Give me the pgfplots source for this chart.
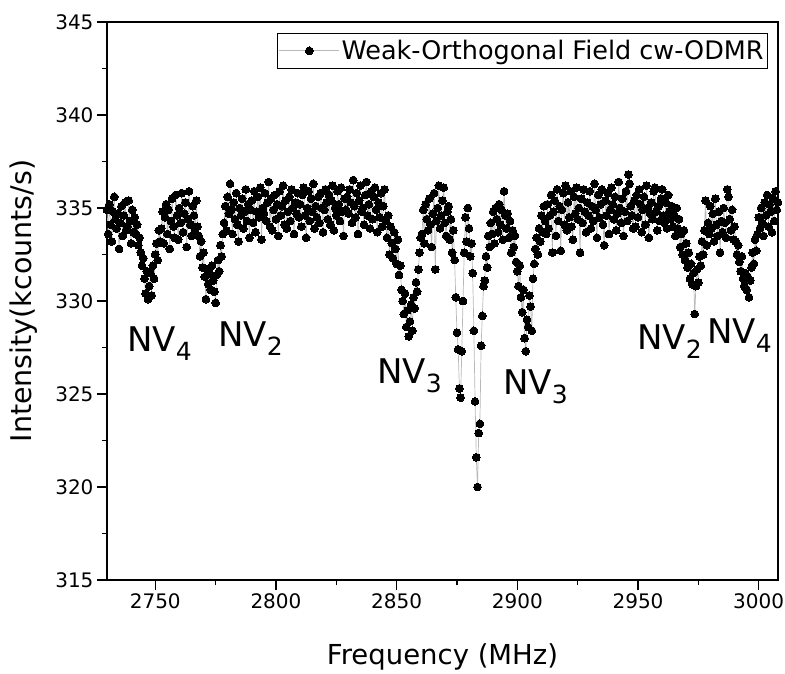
\documentclass[border=0pt]{standalone}
\usepackage{pgfplots}
\pgfplotsset{compat=1.18}
\usepackage{fontspec}
\setmainfont{DejaVu Sans}
\pgfplotstableread{
x y
2730.0 334.9
2730.5 333.6
2731.0 335.2
2731.5 334.1
2732.0 333.2
2732.5 334.8
2733.0 335.6
2733.5 334.4
2734.0 333.9
2734.5 334.7
2735.0 332.8
2735.5 334.2
2736.0 335.1
2736.5 333.5
2737.0 334.6
2737.5 335.3
2738.0 333.8
2738.5 334.0
2739.0 335.4
2739.5 334.3
2740.0 333.1
2740.5 334.9
2741.0 333.7
2741.5 334.5
2742.0 333.6
2742.5 334.1
2743.0 333.0
2743.5 333.4
2744.0 332.6
2744.5 331.9
2745.0 332.3
2745.5 331.2
2746.0 330.4
2746.5 331.6
2747.0 330.1
2747.5 330.8
2748.0 331.5
2748.5 330.3
2749.0 331.9
2749.5 331.2
2750.0 332.5
2750.5 333.1
2751.0 332.2
2751.5 333.8
2752.0 333.2
2752.5 333.9
2753.0 334.8
2753.5 333.1
2754.0 334.5
2754.5 335.2
2755.0 333.6
2755.5 334.9
2756.0 332.8
2756.5 334.3
2757.0 335.5
2757.5 334.0
2758.0 333.4
2758.5 335.7
2759.0 334.6
2759.5 333.3
2760.0 335.0
2760.5 334.2
2761.0 335.8
2761.5 333.7
2762.0 334.7
2762.5 335.3
2763.0 332.9
2763.5 334.4
2764.0 335.9
2764.5 334.1
2765.0 333.5
2765.5 335.1
2766.0 334.6
2766.5 333.8
2767.0 335.4
2767.5 334.0
2768.0 333.5
2768.5 332.4
2769.0 333.2
2769.5 331.8
2770.0 332.6
2770.5 331.3
2771.0 330.1
2771.5 331.7
2772.0 330.9
2772.5 331.5
2773.0 330.6
2773.5 331.9
2774.0 331.1
2774.5 330.5
2775.0 329.9
2775.5 331.4
2776.0 332.2
2776.5 331.6
2777.0 333.0
2777.5 332.4
2778.0 333.6
2778.5 334.2
2779.0 335.1
2779.5 333.8
2780.0 335.6
2780.5 334.7
2781.0 336.3
2781.5 334.9
2782.0 333.6
2782.5 335.3
2783.0 334.4
2783.5 335.8
2784.0 334.1
2784.5 333.2
2785.0 335.0
2785.5 334.6
2786.0 335.5
2786.5 333.9
2787.0 334.8
2787.5 336.0
2788.0 334.3
2788.5 335.2
2789.0 333.4
2789.5 334.9
2790.0 335.4
2790.5 334.2
2791.0 335.9
2791.5 333.7
2792.0 334.8
2792.5 335.6
2793.0 334.5
2793.5 336.1
2794.0 333.3
2794.5 335.0
2795.0 334.7
2795.5 335.8
2796.0 334.3
2796.5 335.3
2797.0 336.4
2797.5 334.0
2798.0 335.5
2798.5 333.8
2799.0 334.9
2799.5 335.7
2800.0 334.4
2800.5 335.2
2801.0 333.5
2801.5 335.9
2802.0 334.6
2802.5 335.1
2803.0 336.2
2803.5 334.1
2804.0 335.4
2804.5 333.9
2805.0 334.8
2805.5 335.6
2806.0 334.3
2806.5 336.0
2807.0 335.0
2807.5 333.6
2808.0 335.3
2808.5 334.7
2809.0 335.8
2809.5 334.5
2810.0 335.2
2810.5 334.0
2811.0 335.7
2811.5 336.1
2812.0 334.6
2812.5 333.4
2813.0 335.0
2813.5 335.9
2814.0 334.3
2814.5 335.5
2815.0 334.8
2815.5 336.3
2816.0 333.9
2816.5 335.1
2817.0 334.5
2817.5 335.6
2818.0 334.2
2818.5 335.8
2819.0 335.0
2819.5 333.7
2820.0 334.9
2820.5 336.0
2821.0 335.3
2821.5 334.4
2822.0 335.7
2822.5 334.1
2823.0 335.4
2823.5 336.2
2824.0 333.8
2824.5 335.0
2825.0 334.6
2825.5 335.9
2826.0 335.2
2826.5 334.3
2827.0 336.1
2827.5 334.8
2828.0 333.5
2828.5 335.5
2829.0 334.9
2829.5 335.6
2830.0 334.7
2830.5 336.0
2831.0 335.3
2831.5 334.2
2832.0 336.5
2832.5 335.1
2833.0 334.5
2833.5 335.8
2834.0 333.6
2834.5 335.4
2835.0 336.2
2835.5 334.8
2836.0 335.0
2836.5 334.1
2837.0 335.7
2837.5 336.4
2838.0 334.6
2838.5 335.2
2839.0 333.9
2839.5 335.9
2840.0 334.4
2840.5 335.6
2841.0 336.1
2841.5 334.9
2842.0 333.7
2842.5 335.3
2843.0 334.5
2843.5 335.8
2844.0 334.0
2844.5 335.1
2845.0 336.0
2845.5 334.3
2846.0 333.4
2846.5 334.6
2847.0 332.5
2847.5 334.0
2848.0 333.1
2848.5 332.3
2849.0 333.7
2849.5 332.8
2850.0 332.0
2850.5 333.3
2851.0 331.4
2851.5 331.9
2852.0 330.6
2852.5 330.0
2853.0 329.3
2853.5 330.4
2854.0 328.6
2854.5 329.5
2855.0 328.1
2855.5 328.9
2856.0 329.8
2856.5 328.4
2857.0 330.2
2857.5 329.6
2858.0 331.0
2858.5 330.5
2859.0 331.7
2859.5 332.6
2860.0 333.4
2860.5 333.6
2861.0 334.9
2861.5 333.1
2862.0 335.2
2862.5 334.4
2863.0 333.8
2863.5 335.5
2864.0 334.1
2864.5 332.9
2865.0 334.7
2865.5 335.8
2866.0 331.7
2866.5 334.3
2867.0 335.0
2867.5 336.2
2868.0 333.9
2868.5 334.6
2869.0 335.4
2869.5 336.1
2870.0 334.2
2870.5 333.5
2871.0 334.8
2871.5 335.1
2872.0 333.3
2872.5 334.4
2873.0 332.6
2873.5 333.8
2874.0 332.2
2874.5 330.2
2875.0 328.3
2875.5 327.4
2876.0 325.3
2876.5 324.8
2877.0 327.3
2877.5 330.0
2878.0 332.6
2878.5 334.5
2879.0 333.2
2879.5 335.0
2880.0 333.9
2880.5 332.4
2881.0 333.1
2881.5 331.5
2882.0 328.4
2882.5 324.6
2883.0 321.6
2883.5 320.0
2884.0 322.9
2884.5 323.4
2885.0 327.6
2885.5 329.2
2886.0 330.8
2886.5 331.1
2887.0 332.4
2887.5 331.8
2888.0 333.5
2888.5 332.9
2889.0 334.2
2889.5 333.6
2890.0 334.8
2890.5 333.1
2891.0 335.0
2891.5 334.4
2892.0 333.7
2892.5 335.2
2893.0 334.1
2893.5 334.9
2894.0 333.3
2894.5 335.9
2895.0 334.6
2895.5 333.9
2896.0 334.7
2896.5 333.4
2897.0 334.3
2897.5 332.6
2898.0 333.8
2898.5 332.9
2899.0 333.5
2899.5 332.1
2900.0 331.6
2900.5 330.8
2901.0 331.9
2901.5 330.2
2902.0 329.4
2902.5 330.6
2903.0 328.0
2903.5 327.3
2904.0 329.0
2904.5 328.6
2905.0 330.3
2905.5 329.7
2906.0 328.4
2906.5 331.2
2907.0 332.0
2907.5 332.8
2908.0 333.4
2908.5 332.5
2909.0 333.9
2909.5 333.2
2910.0 334.6
2910.5 333.7
2911.0 335.1
2911.5 334.3
2912.0 333.6
2912.5 335.2
2913.0 333.9
2913.5 334.6
2914.0 335.7
2914.5 332.6
2915.0 334.8
2915.5 335.4
2916.0 333.5
2916.5 336.0
2917.0 334.3
2917.5 335.1
2918.0 332.7
2918.5 334.9
2919.0 335.8
2919.5 334.1
2920.0 336.2
2920.5 333.8
2921.0 335.3
2921.5 334.5
2922.0 335.9
2922.5 334.0
2923.0 333.3
2923.5 335.6
2924.0 334.7
2924.5 336.1
2925.0 334.4
2925.5 335.0
2926.0 332.6
2926.5 335.5
2927.0 334.2
2927.5 336.0
2928.0 334.8
2928.5 333.7
2929.0 335.3
2929.5 334.6
2930.0 335.9
2930.5 333.9
2931.0 335.1
2931.5 334.3
2932.0 336.3
2932.5 334.9
2933.0 333.4
2933.5 335.7
2934.0 334.5
2934.5 335.2
2935.0 336.0
2935.5 334.1
2936.0 333.0
2936.5 335.4
2937.0 334.6
2937.5 335.8
2938.0 333.6
2938.5 334.9
2939.0 336.1
2939.5 335.2
2940.0 334.4
2940.5 335.6
2941.0 333.8
2941.5 334.7
2942.0 336.4
2942.5 335.0
2943.0 334.2
2943.5 335.5
2944.0 333.5
2944.5 334.8
2945.0 335.9
2945.5 334.3
2946.0 336.8
2946.5 336.3
2947.0 335.1
2947.5 334.6
2948.0 333.9
2948.5 335.4
2949.0 334.0
2949.5 335.7
2950.0 334.5
2950.5 336.0
2951.0 335.2
2951.5 333.7
2952.0 334.9
2952.5 335.6
2953.0 334.1
2953.5 336.2
2954.0 335.0
2954.5 333.4
2955.0 334.7
2955.5 335.3
2956.0 334.4
2956.5 335.9
2957.0 336.1
2957.5 334.8
2958.0 333.8
2958.5 335.1
2959.0 334.3
2959.5 335.5
2960.0 336.0
2960.5 334.6
2961.0 334.2
2961.5 335.3
2962.0 333.9
2962.5 335.7
2963.0 334.8
2963.5 334.4
2964.0 335.1
2964.5 334.0
2965.0 334.6
2965.5 333.5
2966.0 335.0
2966.5 333.9
2967.0 334.4
2967.5 332.9
2968.0 333.6
2968.5 332.5
2969.0 333.8
2969.5 332.2
2970.0 333.1
2970.5 331.8
2971.0 332.6
2971.5 331.2
2972.0 332.0
2972.5 330.9
2973.0 331.5
2973.5 329.3
2974.0 330.8
2974.5 331.7
2975.0 331.0
2975.5 332.4
2976.0 331.9
2976.5 333.2
2977.0 332.5
2977.5 333.8
2978.0 335.4
2978.5 333.0
2979.0 334.2
2979.5 333.6
2980.0 335.1
2980.5 333.9
2981.0 334.7
2981.5 333.2
2982.0 335.5
2982.5 334.1
2983.0 333.5
2983.5 334.8
2984.0 332.6
2984.5 334.3
2985.0 333.7
2985.5 335.0
2986.0 334.2
2986.5 333.4
2987.0 336.0
2987.5 335.6
2988.0 334.4
2988.5 333.8
2989.0 334.9
2989.5 333.3
2990.0 334.0
2990.5 333.2
2991.0 332.5
2991.5 333.0
2992.0 332.1
2992.5 331.6
2993.0 332.4
2993.5 331.2
2994.0 330.8
2994.5 331.5
2995.0 330.6
2995.5 331.3
2996.0 330.2
2996.5 331.1
2997.0 331.8
2997.5 332.6
2998.0 332.0
2998.5 333.3
2999.0 332.7
2999.5 333.6
3000.0 334.5
3000.5 333.9
3001.0 335.0
3001.5 334.2
3002.0 333.5
3002.5 335.3
3003.0 334.6
3003.5 335.7
3004.0 334.0
3004.5 335.2
3005.0 334.8
3005.5 333.7
3006.0 335.5
3006.5 334.3
3007.0 335.9
3007.5 334.9
3008.0 335.3
}\odmr
\begin{document}
\begin{tikzpicture}
\path[use as bounding box] (-107pt,-93pt) rectangle (678pt,580pt);
\begin{axis}[
  scale only axis, width=671pt, height=558pt,
  at={(0pt,0pt)}, anchor=south west,
  xmin=2730, xmax=3008, ymin=315, ymax=345,
  xtick={2750,2800,...,3000}, ytick={315,320,...,345},
  minor x tick num=1, minor y tick num=1,
  tick pos=left, tick align=outside,
  major tick length=10pt, minor tick length=5pt,
  every tick/.style={black, line width=1.3pt},
  axis line style={line width=1.6pt},
  /pgf/number format/assume math mode=true,
  /pgf/number format/1000 sep={},
  ticklabel style={font=\fontsize{20}{24}\selectfont},
  xlabel={Frequency (MHz)}, ylabel={Intensity(kcounts/s)},
  xlabel style={font=\fontsize{27.5}{30}\selectfont, at={(axis description cs:0.5,-0.1523)}, anchor=base},
  ylabel style={font=\fontsize{28.5}{30}\selectfont, at={(axis description cs:-0.1118,0.5)}, anchor=base},
  legend style={at={(axis description cs:1,1)}, anchor=north east, xshift=-10pt, yshift=-11pt,
    draw=black, line width=0.8pt, font=\fontsize{25.5}{28}\selectfont, inner xsep=2pt, inner ysep=5pt, fill=white},
  legend cell align=left,
  legend image code/.code={\draw[mark repeat=2,mark phase=2] plot coordinates {(0pt,0pt) (30pt,0pt) (60pt,0pt)};},
]
\addplot[color=black!28, line width=0.7pt, mark=*, mark size=3.9pt, mark options={draw=black, fill=black, line width=0pt}] table[x=x, y=y] {\odmr};
\addlegendentry{Weak-Orthogonal Field cw-ODMR}
\begin{scope}[every node/.style={anchor=base west, inner sep=0pt, font=\fontsize{34}{36}\selectfont}]
\node at (axis cs:2738.3,327.26) {NV\raisebox{-9pt}{\fontsize{25}{25}\selectfont 4}};
\node at (axis cs:2776.0,327.53) {NV\raisebox{-9pt}{\fontsize{25}{25}\selectfont 2}};
\node at (axis cs:2841.9,325.59) {NV\raisebox{-9pt}{\fontsize{25}{25}\selectfont 3}};
\node at (axis cs:2894.1,324.95) {NV\raisebox{-9pt}{\fontsize{25}{25}\selectfont 3}};
\node at (axis cs:2949.6,327.37) {NV\raisebox{-9pt}{\fontsize{25}{25}\selectfont 2}};
\node at (axis cs:2978.6,327.74) {NV\raisebox{-9pt}{\fontsize{25}{25}\selectfont 4}};
\end{scope}
\end{axis}
\end{tikzpicture}
\end{document}
